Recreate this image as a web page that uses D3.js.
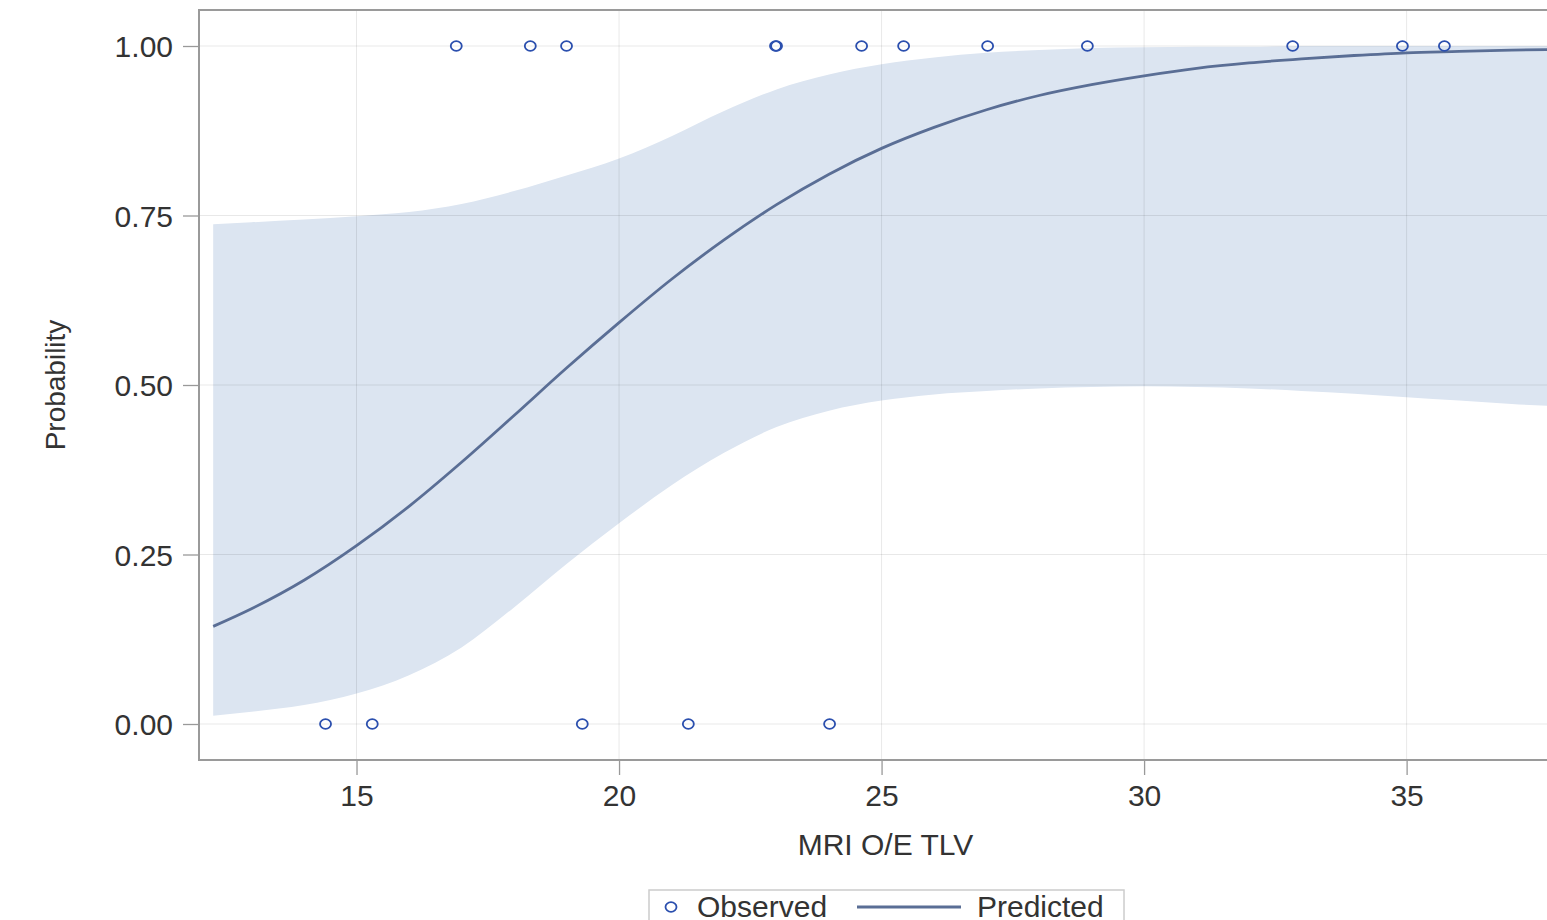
<!DOCTYPE html>
<html>
<head>
<meta charset="utf-8">
<script src="https://cdn.jsdelivr.net/npm/d3@7"></script>
<style>
  body { margin: 0; overflow: hidden; background: #fff; }
  text { font-family: "Liberation Sans", Arial, sans-serif; fill: #333; }
</style>
</head>
<body>
<svg id="chart" width="1547" height="920"></svg>
<script>
// values
const fitX      = [12.27, 13, 14, 15, 16, 17, 18, 19, 20, 21, 22, 23, 24, 25, 26, 27, 28, 29, 30, 31, 32, 33, 34, 35, 36, 37, 38];
const predicted = [0.144, 0.170, 0.212, 0.263, 0.321, 0.386, 0.455, 0.525, 0.592, 0.656, 0.714, 0.766, 0.811, 0.849, 0.880, 0.906, 0.927, 0.943, 0.956, 0.967, 0.975, 0.981, 0.986, 0.990, 0.992, 0.994, 0.995];
const lowerCL   = [0.012, 0.018, 0.028, 0.045, 0.072, 0.113, 0.172, 0.236, 0.296, 0.352, 0.400, 0.438, 0.462, 0.477, 0.486, 0.491, 0.495, 0.497, 0.498, 0.497, 0.495, 0.491, 0.487, 0.482, 0.477, 0.472, 0.468];
const upperCL   = [0.737, 0.740, 0.744, 0.749, 0.755, 0.767, 0.786, 0.809, 0.834, 0.867, 0.904, 0.936, 0.958, 0.973, 0.983, 0.990, 0.994, 0.997, 0.998, 0.999, 0.999, 1.000, 1.000, 1.000, 1.000, 1.000, 1.000];

const obsX = [16.90, 18.31, 19.00, 22.98, 23.00, 24.62, 25.42, 27.02, 28.92, 32.83, 34.92, 35.72,
              14.41, 15.30, 19.30, 21.32, 24.01];
const obsY = [1, 1, 1, 1, 1, 1, 1, 1, 1, 1, 1, 1,
              0, 0, 0, 0, 0];

const xTicks = [15, 20, 25, 30, 35];
const yTicks = [0, 0.25, 0.5, 0.75, 1];

const svg = d3.select("#chart");
const plotL = 199, plotR = 1572, plotT = 10, plotB = 760;

const x = d3.scaleLinear().domain([12, 38.15]).range([plotL, plotR]);
const pad = 36 / 678;
const y = d3.scaleLinear().domain([-pad, 1 + pad]).range([plotB, plotT]);

const fit = fitX.map((v, i) => ({ x: v, p: predicted[i], lo: lowerCL[i], hi: upperCL[i] }));
const obs = obsX.map((v, i) => ({ x: v, y: obsY[i] }));

// confidence band
svg.append("path")
  .datum(fit)
  .attr("fill", "#dce5f1")
  .attr("d", d3.area()
    .x(d => x(d.x))
    .y0(d => y(d.lo))
    .y1(d => y(d.hi))
    .curve(d3.curveMonotoneX));

// grid lines
svg.append("g")
  .selectAll("line")
  .data(xTicks)
  .enter().append("line")
  .attr("x1", d => x(d)).attr("x2", d => x(d))
  .attr("y1", plotT).attr("y2", plotB)
  .attr("stroke", "rgba(0,0,0,0.09)");
svg.append("g")
  .selectAll("line")
  .data(yTicks)
  .enter().append("line")
  .attr("x1", plotL).attr("x2", plotR)
  .attr("y1", d => y(d)).attr("y2", d => y(d))
  .attr("stroke", "rgba(0,0,0,0.09)");

// predicted line
svg.append("path")
  .datum(fit)
  .attr("fill", "none")
  .attr("stroke", "#5a6e95")
  .attr("stroke-width", 2.8)
  .attr("d", d3.line()
    .x(d => x(d.x))
    .y(d => y(d.p))
    .curve(d3.curveMonotoneX));

// observed points
svg.append("g")
  .selectAll("ellipse")
  .data(obs)
  .enter().append("ellipse")
  .attr("cx", d => x(d.x))
  .attr("cy", d => y(d.y))
  .attr("rx", 5.5)
  .attr("ry", 4.8)
  .attr("fill", "none")
  .attr("stroke", "#2b4fae")
  .attr("stroke-width", 1.8);

// axes
const xAxis = svg.append("g")
  .attr("transform", `translate(0,${plotB})`)
  .call(d3.axisBottom(x).tickValues(xTicks).tickSize(15).tickPadding(10).tickFormat(d3.format("d")));
const yAxis = svg.append("g")
  .attr("transform", `translate(${plotL},0)`)
  .call(d3.axisLeft(y).tickValues(yTicks).tickSize(16).tickPadding(10).tickFormat(d3.format(".2f")));

[xAxis, yAxis].forEach(g => {
  g.select(".domain").remove();
  g.selectAll(".tick line").attr("stroke", "#999").attr("stroke-width", 1.3);
  g.selectAll(".tick text").style("font-size", "30px").attr("fill", "#333");
});
yAxis.selectAll(".tick text").attr("dy", "0.36em");

// frame
svg.append("rect")
  .attr("x", plotL).attr("y", plotT)
  .attr("width", plotR - plotL).attr("height", plotB - plotT)
  .attr("fill", "none")
  .attr("stroke", "#9a9a9a")
  .attr("stroke-width", 2);

// axis titles
svg.append("text")
  .attr("x", (plotL + plotR) / 2)
  .attr("y", 855)
  .attr("text-anchor", "middle")
  .style("font-size", "30px")
  .text("MRI O/E TLV");

svg.append("text")
  .attr("transform", `translate(65,${(plotT + plotB) / 2}) rotate(-90)`)
  .attr("text-anchor", "middle")
  .style("font-size", "28px")
  .text("Probability");

// legend
const lg = svg.append("g");
lg.append("rect")
  .attr("x", 649).attr("y", 890)
  .attr("width", 475).attr("height", 60)
  .attr("fill", "#fff")
  .attr("stroke", "#ccc")
  .attr("stroke-width", 1.5);
lg.append("ellipse")
  .attr("cx", 671).attr("cy", 907)
  .attr("rx", 5.5).attr("ry", 4.8)
  .attr("fill", "none")
  .attr("stroke", "#2b4fae")
  .attr("stroke-width", 1.8);
lg.append("text")
  .attr("x", 697).attr("y", 917)
  .style("font-size", "30px")
  .text("Observed");
lg.append("line")
  .attr("x1", 857).attr("x2", 961)
  .attr("y1", 907).attr("y2", 907)
  .attr("stroke", "#5a6e95")
  .attr("stroke-width", 2.8);
lg.append("text")
  .attr("x", 977).attr("y", 917)
  .style("font-size", "30px")
  .text("Predicted");
</script>
</body>
</html>
